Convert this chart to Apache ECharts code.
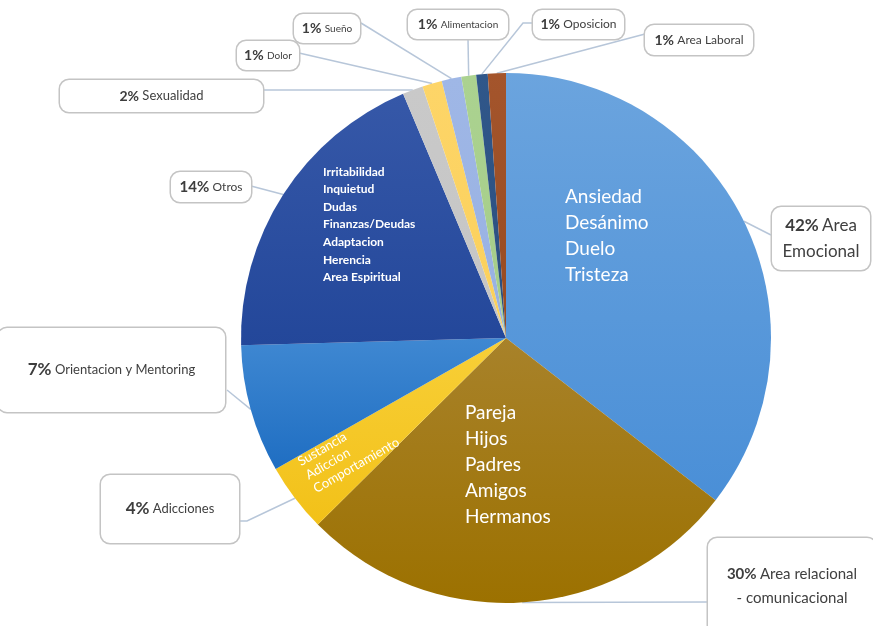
<!DOCTYPE html>
<html>
<head>
<meta charset="utf-8">
<script src="https://cdn.jsdelivr.net/npm/echarts@6/dist/echarts.min.js"></script>
<style>
html,body{margin:0;padding:0;background:#fff;}
#chart{width:873px;height:626px;}
</style>
</head>
<body>
<div id="chart"></div>
<script>
// ---- data ----
const categories = ['Area Emocional','Area relacional - comunicacional','Adicciones','Orientacion y Mentoring','Otros','Sexualidad','Dolor','Sueño','Alimentacion','Oposicion','Area Laboral'];
const values = [35.5, 27.1, 4.2, 7.8, 19.1, 1.25, 1.2, 1.2, 0.9, 0.7, 1.1];
const pctLabels = ['42%','30%','4%','7%','14%','2%','1%','1%','1%','1%','1%'];
const calloutText = [['Area','Emocional'],['Area relacional','- comunicacional'],['Adicciones'],['Orientacion y Mentoring'],['Otros'],['Sexualidad'],['Dolor'],['Sueño'],['Alimentacion'],['Oposicion'],['Area Laboral']];
const innerLists = [
  ['Ansiedad','Desánimo','Duelo','Tristeza'],
  ['Pareja','Hijos','Padres','Amigos','Hermanos'],
  ['Sustancia','Adiccion','Comportamiento'],
  [],
  ['Irritabilidad','Inquietud','Dudas','Finanzas/Deudas','Adaptacion','Herencia','Area Espiritual'],
  [],[],[],[],[],[]
];

// ---- styles / layout ----
const colors = [
  ['#6ba4de','#4a8fd7'],
  ['#a8822a','#9c7100'],
  ['#f8cf38','#f2c118'],
  ['#3f88d2','#1f6ec2'],
  ['#3658a8','#23479a'],
  ['#c9c9c9','#c5c5c5'],
  ['#fdd568','#fbd05a'],
  ['#9fb7e6','#98b1e2'],
  ['#abd290','#a5cd89'],
  ['#30578a','#2b4f7e'],
  ['#a4552c','#974a20']
];
const boxes = [
  {x:772,y:207,w:98,h:63,p:17,n:17,lh:26},
  {x:708,y:538,w:168,h:96,p:15,n:15,lh:24},
  {x:101,y:475,w:138,h:68,p:17,n:13,lh:22},
  {x:-2,y:328,w:227,h:84,p:17,n:13,lh:22},
  {x:171,y:172,w:80,h:30,p:15,n:12,lh:20},
  {x:60,y:80,w:203,h:32,p:14,n:13,lh:20},
  {x:237,y:41,w:62,h:29,p:14,n:10,lh:20},
  {x:294,y:14,w:66,h:29,p:14,n:10,lh:20},
  {x:408,y:10,w:100,h:29,p:14,n:10,lh:20},
  {x:533,y:10,w:91,h:29,p:14,n:12,lh:20},
  {x:645,y:25,w:108,h:30,p:14,n:12,lh:20}
];
const lineEnds = [
  [[771,235]],
  [[708,602]],
  [[247,521],[240,521]],
  [[227,390]],
  [[251,186]],
  [[263,90]],
  [[299,53]],
  [[361,23]],
  [[468,39]],
  [[523,23],[533,23]],
  [[645,34]]
];
const inner = [
  {x:565,y:184,fs:19,lh:26,rot:0,fw:'normal'},
  {x:465,y:400,fs:19,lh:26,rot:0,fw:'normal'},
  {x:295,y:456,fs:13,lh:15.5,rot:30,fw:'normal'},
  null,
  {x:323,y:163,fs:12,lh:17.6,rot:0,fw:'bold'},
  null,null,null,null,null,null
];

const FONT = 'Lato, "Open Sans", sans-serif';
const CENTER = [506, 338];
const RADIUS = 265;

function grad(c){
  return {type:'linear',x:0,y:0,x2:0,y2:1,colorStops:[{offset:0,color:c[0]},{offset:1,color:c[1]}]};
}

const sliceData = categories.map((name,i)=>{
  const c = inner[i];
  return {
    name, value: values[i],
    itemStyle:{color:grad(colors[i])},
    label: c ? {show:true,fontSize:c.fs,lineHeight:c.lh,fontWeight:c.fw} : {show:false}
  };
});

const calloutData = categories.map((name,i)=>{
  const b = boxes[i];
  const lines = calloutText[i];
  const pv = (b.h - lines.length*b.lh)/2;
  const txt = '{p|' + pctLabels[i] + '} {n|' + lines[0] + '}' + (lines.length>1 ? '\n{n|' + lines.slice(1).join('}\n{n|') + '}' : '');
  return {
    name, value: values[i],
    label:{
      formatter: txt,
      width: b.w,
      padding:[pv,0,pv,0],
      rich:{
        p:{fontFamily:FONT,fontWeight:'bold',fontSize:b.p,color:'#3d3d3d',lineHeight:b.lh},
        n:{fontFamily:FONT,fontSize:b.n,color:'#404040',lineHeight:b.lh}
      }
    }
  };
});

const chart = echarts.init(document.getElementById('chart'), null, {renderer:'canvas'});
chart.setOption({
  animation:false,
  backgroundColor:'#ffffff',
  series:[
    {
      type:'pie',
      center:CENTER,
      radius:RADIUS,
      startAngle:90,
      clockwise:true,
      avoidLabelOverlap:false,
      silent:true,
      data:sliceData,
      itemStyle:{borderWidth:0},
      label:{
        position:'inside',
        color:'#ffffff',
        fontFamily:FONT,
        formatter:(p)=>innerLists[p.dataIndex].join('\n')
      },
      labelLine:{show:false},
      labelLayout:(params)=>{
        const c = inner[params.dataIndex];
        if(!c) return {};
        return {x:c.x,y:c.y,align:'left',verticalAlign:'top',rotate:c.rot};
      }
    },
    {
      type:'pie',
      center:CENTER,
      radius:RADIUS,
      startAngle:90,
      clockwise:true,
      avoidLabelOverlap:false,
      silent:true,
      data:calloutData,
      itemStyle:{color:'rgba(0,0,0,0)'},
      label:{
        show:true,
        position:'outside',
        backgroundColor:'#ffffff',
        borderColor:'#c4c4c4',
        borderWidth:1.5,
        borderRadius:9,
        align:'center'
      },
      labelLine:{show:true,length:10,length2:10,lineStyle:{color:'#b7c6d9',width:1.5}},
      labelLayout:(params)=>{
        const i = params.dataIndex;
        const b = boxes[i];
        const start = params.labelLinePoints ? params.labelLinePoints[0] : null;
        const pts = start ? [start].concat(lineEnds[i]) : undefined;
        return {x:b.x+b.w/2,y:b.y+b.h/2,align:'center',verticalAlign:'middle',labelLinePoints:pts};
      }
    }
  ]
});
</script>
</body>
</html>
